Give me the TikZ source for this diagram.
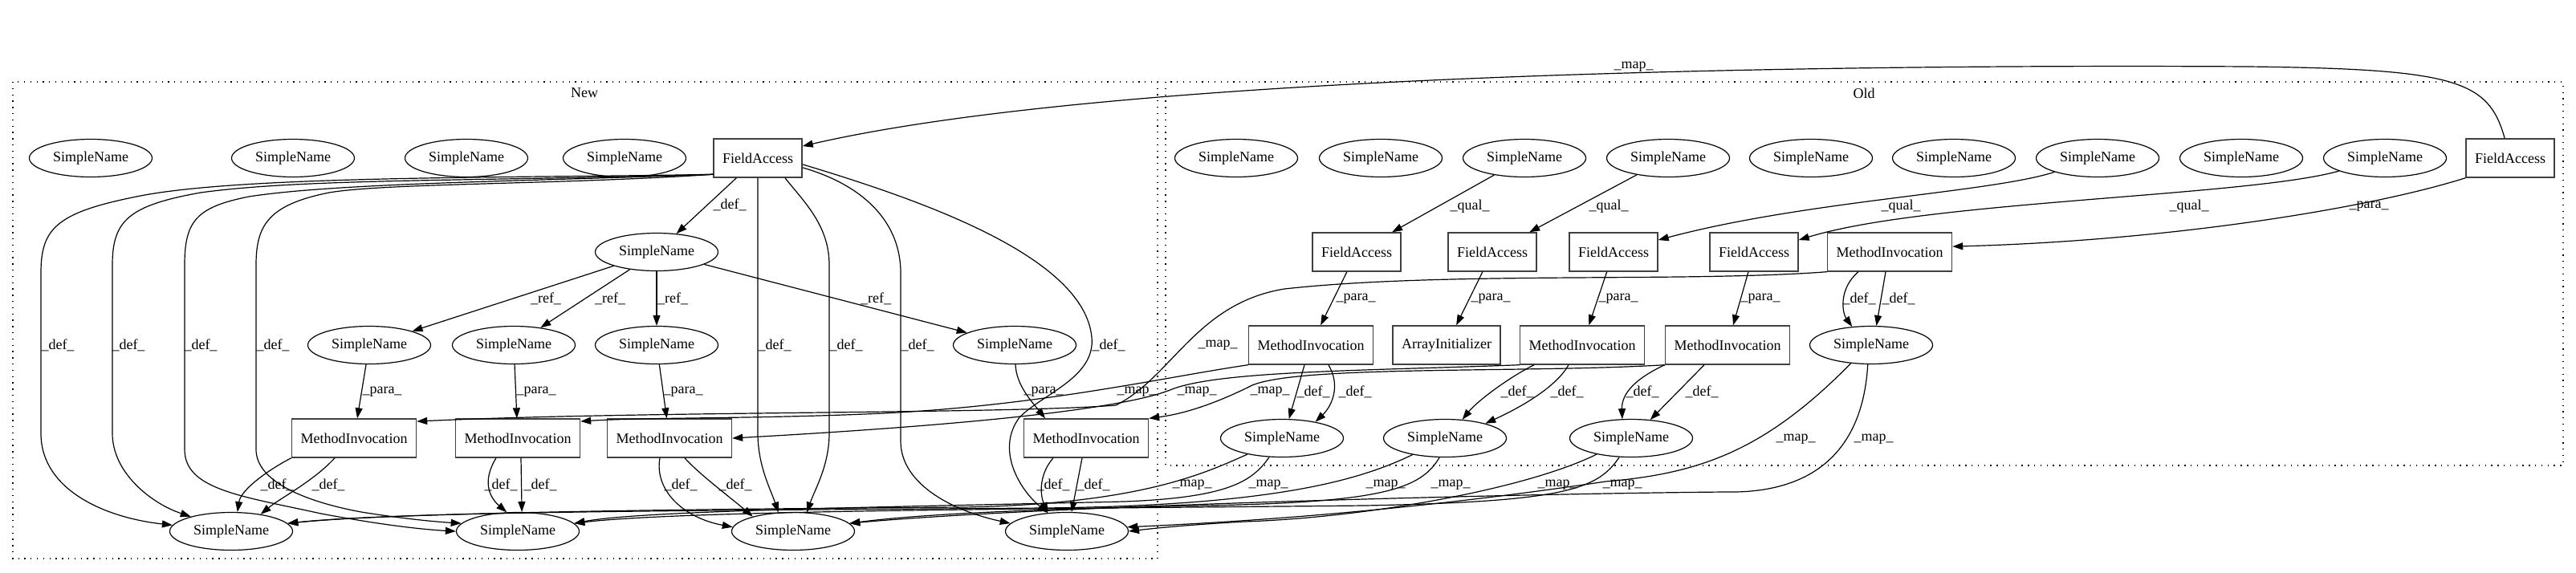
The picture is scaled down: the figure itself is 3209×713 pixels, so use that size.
\documentclass[tikz,border=0pt]{standalone}
\usepackage{fontspec}
\setmainfont{Liberation Serif}
\usetikzlibrary{arrows.meta,shapes.geometric}
\begin{document}
\begin{tikzpicture}[x=1pt,y=-1pt,
  every node/.style={font=\fontsize{18pt}{21pt}\selectfont},
  sn/.style={ellipse,draw,line width=1.2pt,minimum width=153pt,minimum height=47pt,inner sep=0pt},
  bx/.style={rectangle,draw=black!75,line width=1.4pt,minimum height=48pt,inner xsep=11pt,inner ysep=0pt},
  lab/.style={inner sep=0pt},
  edge/.style={draw,line width=1.2pt,-{Triangle[length=13pt,width=9pt]}},
  clus/.style={draw,line width=1.2pt,dash pattern=on 1.3pt off 6.5pt}]
\useasboundingbox (0,0) rectangle (3209,713);
% clusters
\draw[clus] (16,102) rectangle (1442,696);
\draw[clus] (1452,102) rectangle (3193,580);
\node[lab] (cnew) at (728,116) {New};
\node[lab] (cold) at (2322,116) {Old};
% New nodes
\node[sn] (n1) at (113,197) {SimpleName};
\node[sn] (n2) at (365,197) {SimpleName};
\node[sn] (n3) at (581,197) {SimpleName};
\node[sn] (n4) at (778,197) {SimpleName};
\node[bx] (nfa) at (944,197) {FieldAccess};
\node[sn] (ns5) at (818,314) {SimpleName};
\node[sn] (nr1) at (460,430) {SimpleName};
\node[sn] (nr2) at (640,430) {SimpleName};
\node[sn] (nr3) at (818,430) {SimpleName};
\node[sn] (nr4) at (1264,430) {SimpleName};
\node[bx] (nm1) at (441,546) {MethodInvocation};
\node[bx] (nm2) at (645,546) {MethodInvocation};
\node[bx] (nm3) at (834,546) {MethodInvocation};
\node[bx] (nm4) at (1353,546) {MethodInvocation};
\node[sn] (nb1) at (288,662) {SimpleName};
\node[sn] (nb2) at (645,662) {SimpleName};
\node[sn] (nb3) at (988,662) {SimpleName};
\node[sn] (nb4) at (1329,662) {SimpleName};
% Old nodes
\node[sn] (ot1) at (1540,197) {SimpleName};
\node[sn] (ot2) at (1720,197) {SimpleName};
\node[sn] (ot3) at (1899,197) {SimpleName};
\node[sn] (ot4) at (2078,197) {SimpleName};
\node[sn] (ot5) at (2256,197) {SimpleName};
\node[sn] (ot6) at (2434,197) {SimpleName};
\node[sn] (ot7) at (2613,197) {SimpleName};
\node[sn] (ot8) at (2792,197) {SimpleName};
\node[sn] (ot9) at (2971,197) {SimpleName};
\node[bx] (ofa) at (3127,197) {FieldAccess};
\node[bx] (ofa1) at (1690,314) {FieldAccess};
\node[bx] (ofa2) at (1859,314) {FieldAccess};
\node[bx] (ofa3) at (2010,314) {FieldAccess};
\node[bx] (ofa4) at (2185,314) {FieldAccess};
\node[bx] (omi4) at (2354,314) {MethodInvocation};
\node[bx] (omi1) at (1633,430) {MethodInvocation};
\node[bx] (oai) at (1802,430) {ArrayInitializer};
\node[bx] (omi2) at (1971,430) {MethodInvocation};
\node[bx] (omi3) at (2152,430) {MethodInvocation};
\node[sn] (osn) at (2331,430) {SimpleName};
\node[sn] (os1) at (1597,546) {SimpleName};
\node[sn] (os2) at (1800,546) {SimpleName};
\node[sn] (os3) at (2032,546) {SimpleName};
% ---- New edges
\draw[edge] (nfa) -- (ns5);
\node[lab] (l1) at (909,255) {\_def\_};
\draw[edge] (ns5) -- (nr1);
\draw[edge] (ns5) -- (nr2);
\draw[edge] (ns5) -- (nr3);
\draw[edge] (ns5) -- (nr4);
\node[lab] (l2) at (680,372) {\_ref\_};
\node[lab] (l3) at (760,372) {\_ref\_};
\node[lab] (l4) at (838,372) {\_ref\_};
\node[lab] (l5) at (1091,372) {\_ref\_};
\draw[edge] (nr1) -- (nm1);
\draw[edge] (nr2) -- (nm2);
\draw[edge] (nr3) -- (nm3);
\draw[edge] (nr4) .. controls (1266,480) and (1285,500) .. ([xshift=-51pt]nm4.north);
\node[lab] (l6) at (476,488) {\_para\_};
\node[lab] (l7) at (668,488) {\_para\_};
\node[lab] (l8) at (851,488) {\_para\_};
\node[lab] (l9) at (1300,488) {\_para\_};
\draw[edge] (nm1.south west) .. controls (335,585) and (300,610) .. (nb1.72);
\draw[edge] ([xshift=-24pt]nm1.south) .. controls (390,600) and (350,620) .. (nb1.30);
\draw[edge] ([xshift=-27pt]nm2.south) .. controls (600,600) and (610,620) .. (nb2.120);
\draw[edge] ([xshift=4pt]nm2.south) -- (nb2.78);
\draw[edge] ([xshift=-12pt]nm3.south) .. controls (815,610) and (850,645) .. (nb3.176);
\draw[edge] ([xshift=19pt]nm3.south) .. controls (870,590) and (910,620) .. (nb3.160);
\draw[edge] ([xshift=-41pt]nm4.south) .. controls (1295,590) and (1295,615) .. (nb4.136);
\draw[edge] ([xshift=-5pt]nm4.south) -- (nb4.76);
\node[lab] (l10) at (345,604) {\_def\_};
\node[lab] (l11) at (409,604) {\_def\_};
\node[lab] (l12) at (624,604) {\_def\_};
\node[lab] (l13) at (673,604) {\_def\_};
\node[lab] (l14) at (848,604) {\_def\_};
\node[lab] (l15) at (916,604) {\_def\_};
\node[lab] (l16) at (1312,604) {\_def\_};
\node[lab] (l17) at (1362,604) {\_def\_};
% FieldAccess def edges
\draw[edge] (nfa.200) .. controls (650,222) and (300,218) .. (170,245) .. controls (70,265) and (51,285) .. (51,340) -- (51,540) .. controls (51,610) and (130,645) .. (nb1.174);
\draw[edge] (nfa.200) .. controls (600,226) and (380,222) .. (250,240) .. controls (160,256) and (140,275) .. (140,330) -- (140,540) .. controls (140,590) and (190,628) .. (nb1.160);
\draw[edge] (nfa.200) .. controls (650,226) and (420,228) .. (310,245) .. controls (245,258) and (230,275) .. (230,330) -- (230,560) .. controls (230,610) and (300,618) .. (400,640) .. controls (480,655) and (530,660) .. (nb2.west);
\draw[edge] (nfa.200) .. controls (700,230) and (480,228) .. (410,240) .. controls (335,255) and (319,280) .. (319,330) -- (319,560) .. controls (319,600) and (380,625) .. (450,638) .. controls (500,646) and (540,650) .. (nb2.172);
\draw[edge] (nfa.south) -- (944,540) .. controls (944,580) and (960,610) .. (nb3.128);
\draw[edge] (nfa.-36) .. controls (1000,250) and (1033,280) .. (1033,330) -- (1033,540) .. controls (1033,580) and (1015,610) .. (nb3.54);
\draw[edge] (nfa.-12) .. controls (1080,232) and (1122,280) .. (1122,340) -- (1122,550) .. controls (1122,600) and (1180,635) .. (nb4.172);
\draw[edge] (nfa.-8) .. controls (1150,250) and (1350,320) .. (1360,420) .. controls (1365,470) and (1300,490) .. (1270,520) .. controls (1240,560) and (1270,610) .. (nb4.136);
\node[lab] (l18) at (72,430) {\_def\_};
\node[lab] (l19) at (160,430) {\_def\_};
\node[lab] (l20) at (250,430) {\_def\_};
\node[lab] (l21) at (340,430) {\_def\_};
\node[lab] (l22) at (965,430) {\_def\_};
\node[lab] (l23) at (1054,430) {\_def\_};
\node[lab] (l24) at (1143,430) {\_def\_};
\node[lab] (l25) at (1381,430) {\_def\_};
% ---- Old edges
\draw[edge] (ofa) .. controls (3100,100) and (3060,86) .. (2800,83) .. controls (2300,80) and (1400,90) .. (nfa.15);
\node[lab] (l26) at (2035,83) {\_map\_};
\draw[edge] (ofa.south west) .. controls (2950,260) and (2700,300) .. (omi4.5);
\node[lab] (l27) at (2951,257) {\_para\_};
\draw[edge] (ot3) -- (ofa1);
\draw[edge] (ot4) -- (ofa2);
\draw[edge] (ot7) .. controls (2480,240) and (2250,250) .. (ofa3.15);
\draw[edge] (ot9) .. controls (2800,245) and (2400,250) .. (ofa4.15);
\node[lab] (l28) at (1831,257) {\_qual\_};
\node[lab] (l29) at (2004,257) {\_qual\_};
\node[lab] (l30) at (2368,257) {\_qual\_};
\node[lab] (l31) at (2727,257) {\_qual\_};
\draw[edge] (ofa1) -- (omi1);
\draw[edge] (ofa2) -- (oai);
\draw[edge] (ofa3) -- (omi2);
\draw[edge] (ofa4) -- (omi3);
\node[lab] (l32) at (1689,372) {\_para\_};
\node[lab] (l33) at (1857,372) {\_para\_};
\node[lab] (l34) at (2016,372) {\_para\_};
\node[lab] (l35) at (2193,372) {\_para\_};
\draw[edge] ([xshift=-39pt]omi4.south) .. controls (2290,360) and (2295,390) .. (osn.136);
\draw[edge] ([xshift=-5pt]omi4.south) -- (osn.75);
\node[lab] (l36) at (2316,372) {\_def\_};
\node[lab] (l37) at (2365,372) {\_def\_};
\draw[edge] ([xshift=-8pt]omi1.south) -- (os1.70);
\draw[edge] ([xshift=22pt]omi1.south) .. controls (1670,480) and (1660,505) .. (os1.26);
\draw[edge] ([xshift=-60pt]omi2.south) .. controls (1880,470) and (1840,500) .. (os2.47);
\draw[edge] ([xshift=-17pt]omi2.south) .. controls (1940,480) and (1900,505) .. (os2.20);
\draw[edge] (omi3.south west) .. controls (2030,475) and (2020,495) .. (os3.115);
\draw[edge] ([xshift=-29pt]omi3.south) -- (os3.44);
\node[lab] (l38) at (1636,488) {\_def\_};
\node[lab] (l39) at (1688,488) {\_def\_};
\node[lab] (l40) at (1890,488) {\_def\_};
\node[lab] (l41) at (1952,488) {\_def\_};
\node[lab] (l42) at (2046,488) {\_def\_};
\node[lab] (l43) at (2120,488) {\_def\_};
% map: MethodInvocation
\draw[edge] (omi4.south west) .. controls (2100,352) and (1800,338) .. (1600,360) .. controls (1490,378) and (1460,470) .. (1390,505) .. controls (1250,516) and (800,512) .. (nm1.15);
\draw[edge] (omi1.south west) .. controls (1450,470) and (1300,505) .. (1100,515) .. controls (950,522) and (800,520) .. (nm2.15);
\draw[edge] (omi2.south west) .. controls (1700,462) and (1520,462) .. (1460,485) .. controls (1400,510) and (1200,530) .. (nm3.east);
\draw[edge] (omi3.south west) .. controls (1900,465) and (1620,455) .. (1560,480) .. controls (1520,500) and (1480,515) .. (nm4.north east);
\node[lab] (l44) at (1517,430) {\_map\_};
\node[lab] (l45) at (1416,488) {\_map\_};
\node[lab] (l46) at (1491,488) {\_map\_};
\node[lab] (l47) at (1582,488) {\_map\_};
% map: SimpleName
\draw[edge] (os1.205) .. controls (1500,590) and (1420,628) .. (1200,632) .. controls (900,634) and (500,638) .. (nb1.8);
\draw[edge] (os1.236) .. controls (1560,600) and (1530,620) .. (1400,625) .. controls (1100,632) and (800,636) .. (nb2.8);
\draw[edge] (os2.207) .. controls (1700,595) and (1600,630) .. (1300,633) .. controls (900,636) and (500,637) .. (nb1.8);
\draw[edge] (os2.254) .. controls (1770,610) and (1720,626) .. (1500,630) .. controls (1300,634) and (1150,640) .. (nb3.8);
\draw[edge] (os3.205) .. controls (1900,610) and (1700,645) .. (1550,650) .. controls (1480,654) and (1440,658) .. (nb4.east);
\draw[edge] (os3.238) .. controls (1990,610) and (1950,625) .. (1700,630) .. controls (1300,634) and (850,636) .. (nb2.8);
\draw[edge] (osn.222) .. controls (2200,560) and (2120,590) .. (2000,600) .. controls (1800,630) and (1600,648) .. (nb4.4);
\draw[edge] (osn.260) .. controls (2320,570) and (2250,615) .. (2150,613) .. controls (1900,615) and (1300,630) .. (nb3.8);
\node[lab] (l48) at (1485,604) {\_map\_};
\node[lab] (l49) at (1580,604) {\_map\_};
\node[lab] (l50) at (1726,604) {\_map\_};
\node[lab] (l51) at (1807,604) {\_map\_};
\node[lab] (l52) at (1940,604) {\_map\_};
\node[lab] (l53) at (2021,604) {\_map\_};
\node[lab] (l54) at (2237,547) {\_map\_};
\node[lab] (l55) at (2334,547) {\_map\_};
\end{tikzpicture}
\end{document}
